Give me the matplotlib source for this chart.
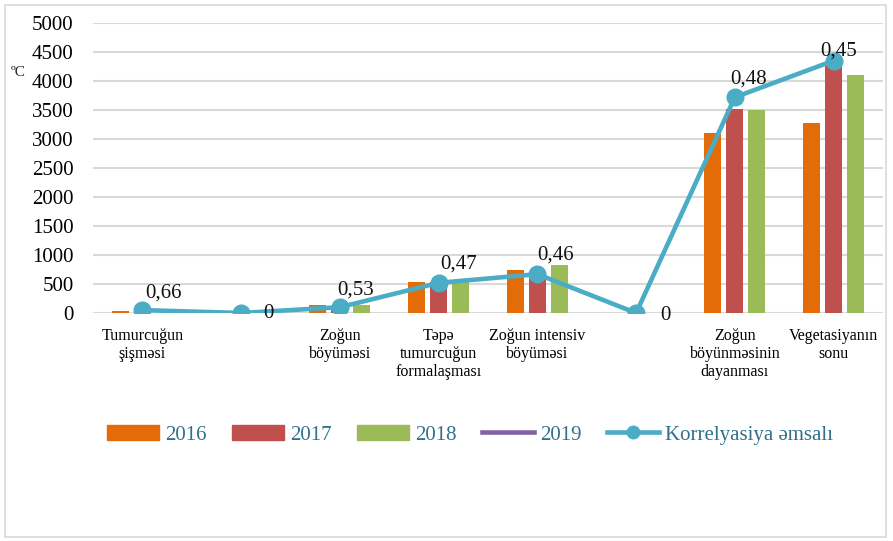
import numpy as np
import matplotlib.pyplot as plt
from matplotlib.patches import Patch, Rectangle
from matplotlib.lines import Line2D

plt.rcParams['font.family'] = ['Liberation Serif', 'DejaVu Serif']

# data
categories = ["Tumurcuğun\nşişməsi", "", "Zoğun\nböyüməsi",
              "Təpə\ntumurcuğun\nformalaşması", "Zoğun intensiv\nböyüməsi", "",
              "Zoğun\nböyünməsinin\ndayanması", "Vegetasiyanın\nsonu"]
y2016 = [40, 0, 130, 540, 740, 0, 3100, 3270]
y2017 = [45, 0, 110, 540, 700, 0, 3520, 4280]
y2018 = [0, 0, 140, 530, 830, 0, 3500, 4110]
corr_line = [50, 0, 100, 520, 670, 0, 3720, 4350]
corr_labels = ["0,66", "0", "0,53", "0,47", "0,46", "0", "0,48", "0,45"]
# label offsets in pixels (dx, dy)
label_offsets = [(21, 17), (27, 0), (16, 17), (20, 19), (18, 19), (29, -2), (14, 18), (5, 10)]

C16, C17, C18, C19, CC = "#E36C09", "#C0504D", "#9BBB59", "#8064A2", "#4BACC6"

fig = plt.figure(figsize=(8.93, 5.41), dpi=100)
ax = fig.add_axes([93 / 893, 1 - 313 / 541, 790 / 893, 290 / 541])

x = np.arange(len(categories))
w = 0.172
step = 0.223
ax.bar(x - step, y2016, w, color=C16, zorder=2)
ax.bar(x, y2017, w, color=C17, zorder=2)
ax.bar(x + step, y2018, w, color=C18, zorder=2)
ax.plot(x, corr_line, color=CC, lw=3.3, marker="o", ms=12, zorder=3)

for xi, yi, lab, (dx, dy) in zip(x, corr_line, corr_labels, label_offsets):
    ax.annotate(lab, (xi, yi), xytext=(dx, dy), textcoords="offset pixels",
                ha="center", va="center", fontsize=15, color="#111111", zorder=4)

ax.set_xlim(-0.5, len(categories) - 0.5)
ax.set_ylim(0, 5000)
ax.set_yticks(np.arange(0, 5001, 500))
ax.tick_params(axis="y", length=0, pad=14, labelsize=15)
ax.tick_params(axis="x", length=0, pad=11, labelsize=11.5)
ax.set_xticks(x)
ax.set_xticklabels(categories, linespacing=1.15)
ax.grid(axis="y", color="#D9D9D9", lw=1.5, zorder=0)
for s in ax.spines.values():
    s.set_visible(False)

# small unit label just left of the 4000 tick
fig.text(11 / 893, 1 - 72 / 541, "ºC", fontsize=11, ha="left", va="center", color="#222222")

handles = [Patch(color=C16), Patch(color=C17), Patch(color=C18),
           Line2D([], [], color=C19, lw=3.3),
           Line2D([], [], color=CC, lw=3.3, marker="o", ms=9)]
fig.legend(handles, ["2016", "2017", "2018", "2019", "Korrelyasiya əmsalı"],
           loc="center", bbox_to_anchor=(470 / 893, 1 - 435 / 541), ncol=5,
           frameon=False, fontsize=15, handlelength=2.5, handletextpad=0.3,
           columnspacing=1.2, labelcolor="#31708A")

fig.add_artist(Rectangle((5 / 893, 4 / 541), 881 / 893, 532 / 541,
                         transform=fig.transFigure, fill=False,
                         edgecolor="#D9D9D9", lw=1.2))

fig.savefig("out.png", dpi=100)
